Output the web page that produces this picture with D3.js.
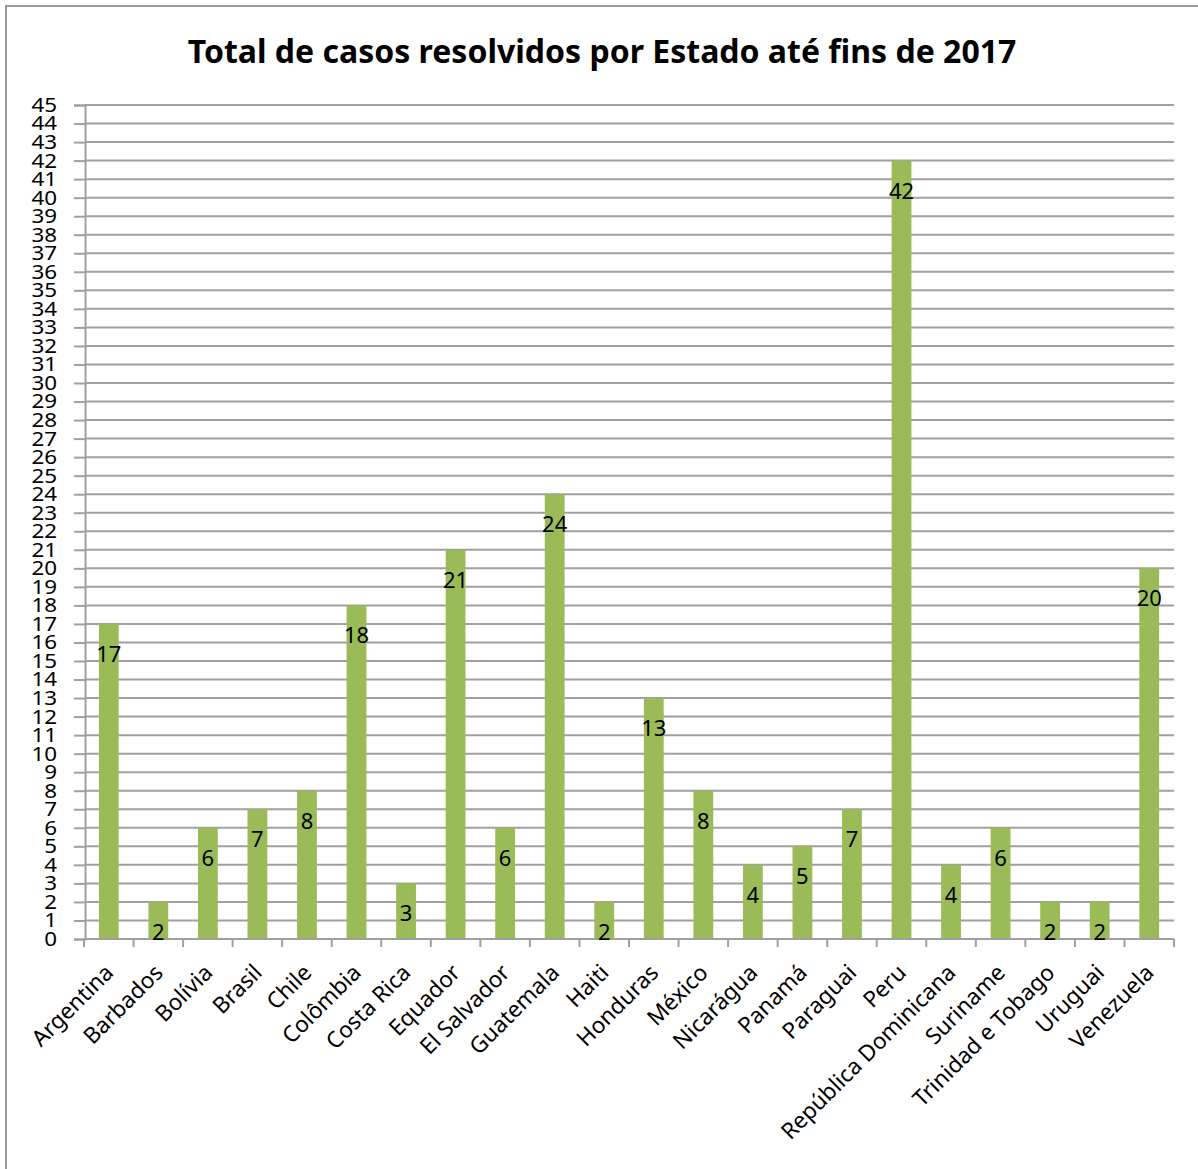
<!DOCTYPE html>
<html>
<head>
<meta charset="utf-8">
<script src="https://cdn.jsdelivr.net/npm/d3@7"></script>
<style>
  html, body { margin: 0; padding: 0; background: #fff; }
  svg { display: block; }
</style>
</head>
<body>
<svg id="chart" width="1198" height="1169"></svg>
<script>
const title = "Total de casos resolvidos por Estado até fins de 2017";
const categories = ["Argentina", "Barbados", "Bolívia", "Brasil", "Chile", "Colômbia", "Costa Rica", "Equador", "El Salvador", "Guatemala", "Haiti", "Honduras", "México", "Nicarágua", "Panamá", "Paraguai", "Peru", "República Dominicana", "Suriname", "Trinidad e Tobago", "Uruguai", "Venezuela"];
const values = [17, 2, 6, 7, 8, 18, 3, 21, 6, 24, 2, 13, 8, 4, 5, 7, 42, 4, 6, 2, 2, 20];
const yTicks = d3.range(0, 46, 1);

(function () {
const svg = d3.select("#chart");
const font = "'Noto Sans', 'Open Sans', sans-serif";

// outer border
svg.append("rect").attr("x", 6).attr("y", 6).attr("width", 1198).attr("height", 1200)
  .attr("fill", "#fff").attr("stroke", "#9a9a9a").attr("stroke-width", 2);

const pl = 85, pr = 1174, pt = 105, pb = 939;
const x = d3.scaleBand().domain(categories).range([84, pr]).paddingInner(0.6).paddingOuter(0.3);
const xb = d3.scaleBand().domain(categories).range([84, pr]);
const y = d3.scaleLinear().domain([0, 45]).range([pb, pt]);

// title
svg.append("text").attr("x", 602).attr("y", 63).attr("text-anchor", "middle")
  .attr("font-family", font).attr("font-weight", "bold").attr("font-size", 32)
  .attr("fill", "#000").text(title);

// y axis
const yAxis = d3.axisLeft(y).tickValues(yTicks).tickSize(11).tickPadding(14).tickFormat(d3.format("d"));
const gy = svg.append("g").attr("transform", `translate(${pl},0)`).call(yAxis);
gy.select(".domain").attr("stroke", "#a0a0a0").attr("stroke-width", 2);
gy.selectAll(".tick line").attr("stroke", "#a0a0a0").attr("stroke-width", 2);
gy.selectAll(".tick text").attr("font-family", font).attr("font-size", 20).attr("fill", "#000")
  .attr("transform", "scale(1.12,1)");

// gridlines
svg.append("g").selectAll("line").data(yTicks.filter(d => d > 0)).join("line")
  .attr("x1", pl).attr("x2", pr).attr("y1", d => y(d)).attr("y2", d => y(d))
  .attr("stroke", "#a0a0a0").attr("stroke-width", 2);

// bars
svg.append("g").selectAll("rect").data(values).join("rect")
  .attr("x", (d, i) => x(categories[i])).attr("width", x.bandwidth())
  .attr("y", d => y(d)).attr("height", d => y(0) - y(d)).attr("fill", "#9BBB59");

// x axis
const gx = svg.append("g").attr("transform", `translate(0,${pb})`);
gx.append("line").attr("x1", pl).attr("x2", pr).attr("stroke", "#a0a0a0").attr("stroke-width", 2);
const bounds = categories.map(c => xb(c)).concat([pr]);
gx.selectAll("line.tk").data(bounds).join("line").attr("class", "tk")
  .attr("x1", d => d).attr("x2", d => d).attr("y1", 0).attr("y2", 8)
  .attr("stroke", "#a0a0a0").attr("stroke-width", 2);

// category labels
svg.append("g").selectAll("text").data(categories).join("text")
  .attr("transform", d => `translate(${xb(d) + xb.bandwidth() / 2 + 6},${pb + 35}) rotate(-45)`)
  .attr("text-anchor", "end")
  .attr("font-family", font).attr("font-size", 22.5).attr("fill", "#000")
  .text(d => d);

// data labels
svg.append("g").selectAll("text").data(values).join("text")
  .attr("x", (d, i) => x(categories[i]) + x.bandwidth() / 2)
  .attr("y", d => y(d) + 38)
  .attr("text-anchor", "middle")
  .attr("font-family", font).attr("font-size", 22).attr("fill", "#000")
  .text(d => d);
})();
</script>
</body>
</html>
